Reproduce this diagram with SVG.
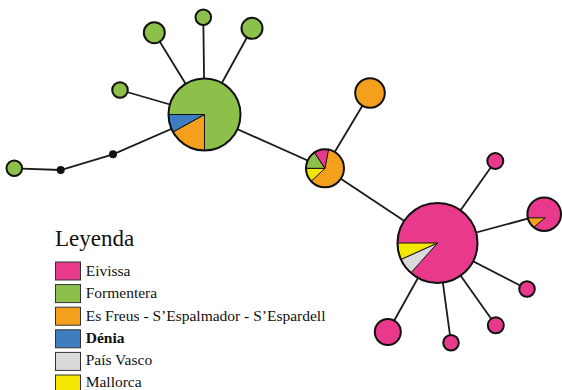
<svg xmlns="http://www.w3.org/2000/svg" width="562" height="390" viewBox="0 0 562 390">
<style>
.edge{stroke:#1a1a1a;stroke-width:1.8;fill:none}
.node{stroke:#111;stroke-width:2}
.wedge{stroke:#111;stroke-width:1}
.pink{fill:#E8398D}
.green{fill:#8DC04B}
.orange{fill:#F5A01C}
.blue{fill:#3F7DC1}
.gray{fill:#DADADA}
.yellow{fill:#F3E600}
.dot{fill:#111}
.leg{stroke:#333;stroke-width:1}
.lt{font-family:"Liberation Serif","Times New Roman",serif;font-size:15.5px;fill:#111}
.title{font-family:"Liberation Serif","Times New Roman",serif;font-size:23px;fill:#111}
</style>
<g id="connectors">
<line class="edge" x1="204.5" y1="114.5" x2="154.3" y2="32.7"/>
<line class="edge" x1="204.5" y1="114.5" x2="203.3" y2="17.3"/>
<line class="edge" x1="204.5" y1="114.5" x2="252" y2="28.3"/>
<line class="edge" x1="204.5" y1="114.5" x2="120" y2="90"/>
<polyline class="edge" points="14.3,168.3 60.7,170 113,154.3 204.5,114.5"/>
<line class="edge" x1="204.5" y1="114.5" x2="325" y2="168.3"/>
<line class="edge" x1="325" y1="168.3" x2="370" y2="93"/>
<line class="edge" x1="325" y1="168.3" x2="437.5" y2="243"/>
<line class="edge" x1="437.5" y1="243" x2="495.3" y2="161"/>
<line class="edge" x1="437.5" y1="243" x2="544.2" y2="214.2"/>
<line class="edge" x1="437.5" y1="243" x2="527" y2="289"/>
<line class="edge" x1="437.5" y1="243" x2="495.8" y2="325.3"/>
<line class="edge" x1="437.5" y1="243" x2="451" y2="342.7"/>
<line class="edge" x1="437.5" y1="243" x2="387.8" y2="332"/>
</g>
<g id="n-green-big">
<circle class="green" cx="204.5" cy="114.5" r="36"/>
<path class="orange wedge" d="M204.5,114.5 L204.5,150.5 A36,36 0 0 1 173,132 Z"/>
<path class="blue wedge" d="M204.5,114.5 L173,132 A36,36 0 0 1 168.5,114.5 Z"/>
<circle class="node" cx="204.5" cy="114.5" r="36" fill="none"/>
</g>
<g id="n-g1"><circle class="node green" cx="154.3" cy="32.7" r="10.5"/></g>
<g id="n-g2"><circle class="node green" cx="203.3" cy="17.3" r="7.8"/></g>
<g id="n-g3"><circle class="node green" cx="252" cy="28.3" r="10.5"/></g>
<g id="n-g4"><circle class="node green" cx="120" cy="90" r="7.8"/></g>
<g id="n-g5"><circle class="node green" cx="14.3" cy="168.3" r="7.8"/></g>
<g id="n-d1"><circle class="dot" cx="60.7" cy="170" r="4"/></g>
<g id="n-d2"><circle class="dot" cx="113" cy="154.3" r="4"/></g>
<g id="n-mix">
<circle class="orange" cx="325" cy="168.3" r="19"/>
<path class="yellow wedge" d="M325,168.3 L311.1,181.3 A19,19 0 0 1 306,168.3 Z"/>
<path class="green wedge" d="M325,168.3 L306,168.3 A19,19 0 0 1 314.4,152.5 Z"/>
<path class="pink wedge" d="M325,168.3 L314.4,152.5 A19,19 0 0 1 328.6,149.6 Z"/>
<circle class="node" cx="325" cy="168.3" r="19" fill="none"/>
</g>
<g id="n-orange"><circle class="node orange" cx="370" cy="93" r="14.8"/></g>
<g id="n-pink-big">
<circle class="pink" cx="437.5" cy="243" r="40"/>
<path class="gray wedge" d="M437.5,243 L410.9,272.9 A40,40 0 0 1 401,259.4 Z"/>
<path class="yellow wedge" d="M437.5,243 L401,259.4 A40,40 0 0 1 397.5,243 Z"/>
<circle class="node" cx="437.5" cy="243" r="40" fill="none"/>
</g>
<g id="n-pink-right">
<circle class="pink" cx="544.2" cy="214.2" r="16.8"/>
<path class="orange wedge" d="M545.2,217.8 L527.8,217.8 A16.8,16.8 0 0 0 533.6,227.3 Z"/>
<circle class="node" cx="544.2" cy="214.2" r="16.8" fill="none"/>
</g>
<g id="n-p1"><circle class="node pink" cx="495.3" cy="161" r="8"/></g>
<g id="n-p2"><circle class="node pink" cx="527" cy="289" r="7.8"/></g>
<g id="n-p3"><circle class="node pink" cx="495.8" cy="325.3" r="8"/></g>
<g id="n-p4"><circle class="node pink" cx="451" cy="342.7" r="7.8"/></g>
<g id="n-p5"><circle class="node pink" cx="387.8" cy="332" r="13"/></g>
<g id="legend">
<text class="title" x="55" y="246">Leyenda</text>
<rect class="leg pink" x="55.5" y="262" width="25" height="18"/>
<rect class="leg green" x="55.5" y="284.6" width="25" height="18"/>
<rect class="leg orange" x="55.5" y="307.2" width="25" height="18"/>
<rect class="leg blue" x="55.5" y="329.8" width="25" height="18"/>
<rect class="leg gray" x="55.5" y="352.4" width="25" height="18"/>
<rect class="leg yellow" x="55.5" y="375" width="25" height="18"/>
<text class="lt" x="85.7" y="276">Eivissa</text>
<text class="lt" x="85.7" y="298.3">Formentera</text>
<text class="lt" x="85.7" y="320.5">Es Freus - S’Espalmador - S’Espardell</text>
<text class="lt" x="85.7" y="342.7" font-weight="bold">Dénia</text>
<text class="lt" x="85.7" y="364.9">País Vasco</text>
<text class="lt" x="85.7" y="387">Mallorca</text>
</g>
</svg>
